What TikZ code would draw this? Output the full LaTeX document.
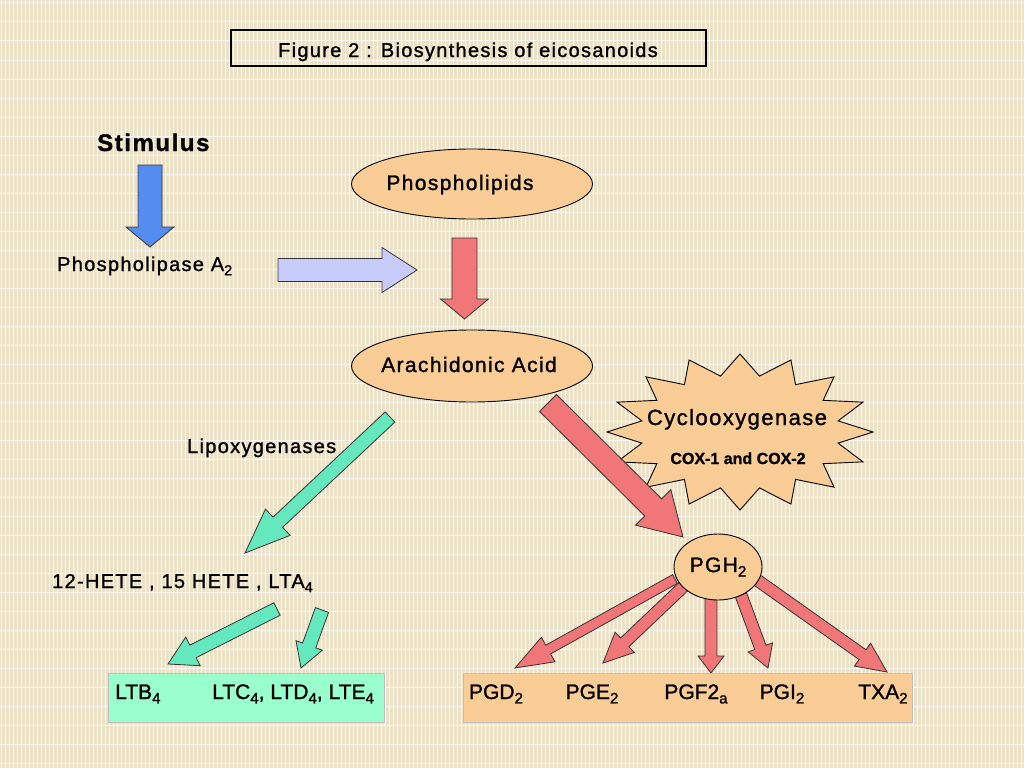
\documentclass[tikz,border=0pt]{standalone}
\usepackage{fontspec}
\setmainfont{Liberation Sans}
\newfontfamily\spfont[LetterSpace=6.5,FakeBold=1.2]{Liberation Sans}
\newfontfamily\fbfont[FakeBold=1.2]{Liberation Sans}
\usetikzlibrary{shapes.geometric,calc}
\definecolor{bgbeige}{RGB}{236,224,198}
\definecolor{peach}{RGB}{250,204,150}
\definecolor{mint}{RGB}{153,255,204}
\definecolor{aqua}{RGB}{102,232,190}
\definecolor{salmon}{RGB}{240,118,120}
\definecolor{skyblue}{RGB}{85,140,240}
\definecolor{lavblue}{RGB}{200,204,250}
\newcommand{\lsub}[1]{\raisebox{-0.4ex}{\scalebox{0.72}{#1}}}
% block arrow: style, start, end, shaft half width, head half width, head length
\newcommand{\blockarrow}[6]{%
  \path ($(#3)!#6pt!(#2)$) coordinate (ba-h);
  \draw[#1] ($(#2)!#4pt!90:(#3)$) -- ($(ba-h)!#4pt!-90:(#2)$) -- ($(ba-h)!#5pt!-90:(#2)$)
    -- (#3) -- ($(ba-h)!#5pt!90:(#2)$) -- ($(ba-h)!#4pt!90:(#2)$) -- ($(#2)!#4pt!-90:(#3)$) -- cycle;}
\tikzset{
  gridln/.style={white, line width=1pt, opacity=0.85},
  t20/.style={font=\spfont\fontsize{20}{24}\selectfont, inner sep=0},
  t21/.style={font=\spfont\fontsize{21}{25}\selectfont, inner sep=0},
  t22/.style={font=\spfont\fontsize{22}{26}\selectfont, inner sep=0},
  b21/.style={font=\fbfont\fontsize{21}{25}\selectfont, inner sep=0},
  oval/.style={ellipse, draw=black, line width=0.9pt, fill=peach, inner sep=0},
  redA/.style={fill=salmon, draw=black!80, line width=0.8pt, line join=miter},
  greenA/.style={fill=aqua, draw=black!80, line width=0.8pt, line join=miter},
  blueA/.style={fill=skyblue, draw=black!80, line width=0.8pt, line join=miter},
  lavA/.style={fill=lavblue, draw=black!80, line width=0.8pt, line join=miter},
}
\begin{document}
\begin{tikzpicture}[x=1pt,y=-1pt]
\useasboundingbox (0,0) rectangle (1024,768);
% background
\fill[bgbeige] (0,0) rectangle (1024,768);
\foreach \i in {1,5,...,1024} \draw[gridln] (\i,0) -- (\i,768);
\foreach \j in {3,22,...,768} \draw[gridln] (0,\j) -- (1024,\j);

% title
\node[draw=black, line width=1.2pt, minimum width=475, minimum height=36, inner sep=0] (titlebox) at (468.5,48) {};
\node[t20, anchor=base] (title) at (468,57) {Figure 2 : Biosynthesis of eicosanoids};

% left texts
\node[font=\spfont\bfseries\fontsize{24}{28}\selectfont, inner sep=0, anchor=base west] (stim) at (97,151) {Stimulus};
\node[t20, anchor=base west] (pla) at (57,271) {Phospholipase A\lsub{2}};

% ellipses
\node[oval, minimum width=241, minimum height=70] (phos) at (472,184) {};
\node[t21, anchor=base] (phost) at (460,190) {Phospholipids};
\node[oval, minimum width=241, minimum height=72] (arach) at (472,366) {};
\node[t21, anchor=base] (aracht) at (469,372) {Arachidonic Acid};

% starburst
\draw[fill=peach, draw=black, line width=0.9pt, line join=miter]
  plot[samples at={0,...,31}] ({740+(mod(\x,2)==0 ? 133 : 100)*cos(90+\x*11.25)}, {432-(mod(\x,2)==0 ? 78 : 57)*sin(90+\x*11.25)}) -- cycle;
\node[t22, anchor=base] (cox) at (737,425) {Cyclooxygenase};
\node[font=\fbfont\bfseries\fontsize{16}{19}\selectfont, inner sep=0, anchor=base] (coxs) at (738,464) {COX-1 and COX-2};

% other texts
\node[t20, anchor=base west] (lipox) at (187,453) {Lipoxygenases};
\node[t20, anchor=base west] (hete) at (52,588) {12-HETE , 15 HETE , LTA\lsub{4}};

% arrow end points
\coordinate (stim-s) at (150,165); \coordinate (stim-e) at (150,247);
\coordinate (pla-s) at (278,270); \coordinate (pla-e) at (417,270);
\coordinate (phos-s) at (464.5,238); \coordinate (phos-e) at (464.5,319);
\coordinate (ar-s) at (548,403); \coordinate (ar-e) at (683,537);
\coordinate (lx-s) at (390,417); \coordinate (lx-e) at (245,553);
\coordinate (g1-s) at (277,609); \coordinate (g1-e) at (168,664);
\coordinate (g2-s) at (322,610); \coordinate (g2-e) at (301,668);
\coordinate (r1-s) at (675,579); \coordinate (r1-e) at (515,668);
\coordinate (r2-s) at (684,586); \coordinate (r2-e) at (603,663);
\coordinate (r3-s) at (711,598); \coordinate (r3-e) at (711,673);
\coordinate (r4-s) at (741,595); \coordinate (r4-e) at (768,668);
\coordinate (r5-s) at (757,580); \coordinate (r5-e) at (887,672);

\blockarrow{blueA}{stim-s}{stim-e}{12}{24}{20}
\blockarrow{lavA}{pla-s}{pla-e}{11.5}{22.5}{35}
\blockarrow{redA}{phos-s}{phos-e}{12.5}{24}{20}
\blockarrow{redA}{ar-s}{ar-e}{12}{25}{42}
\blockarrow{greenA}{lx-s}{lx-e}{7}{18}{45}
\blockarrow{greenA}{g1-s}{g1-e}{7}{16}{28}
\blockarrow{greenA}{g2-s}{g2-e}{7}{14}{24}
\blockarrow{redA}{r1-s}{r1-e}{5}{14}{38}
\blockarrow{redA}{r2-s}{r2-e}{6}{14}{30}
\blockarrow{redA}{r3-s}{r3-e}{6}{13}{17}
\blockarrow{redA}{r4-s}{r4-e}{6}{13}{22}
\blockarrow{redA}{r5-s}{r5-e}{6}{14}{30}

% PGH2
\node[oval, minimum width=88, minimum height=66, font=\spfont\fontsize{21}{25}\selectfont] (pgh) at (718,567) {PGH\lsub{2}};

% bottom boxes
\node[draw=black!25, line width=1pt, fill=mint, minimum width=276, minimum height=49, inner sep=0] (lbox) at (246,697.5) {};
\node[b21, anchor=base west] (ltb) at (115,699) {LTB\lsub{4}};
\node[b21, anchor=base west] (ltc) at (212,699) {LTC\lsub{4}, LTD\lsub{4}, LTE\lsub{4}};

\node[draw=black!25, line width=1pt, fill=peach, minimum width=449, minimum height=49, inner sep=0] (pbox) at (687.5,697.5) {};
\node[b21, anchor=base] (pgd) at (496,699) {PGD\lsub{2}};
\node[b21, anchor=base] (pge) at (592,699) {PGE\lsub{2}};
\node[b21, anchor=base] (pgf) at (696,699) {PGF2\lsub{a}};
\node[b21, anchor=base] (pgi) at (782,699) {PGI\lsub{2}};
\node[b21, anchor=base] (txa) at (883,699) {TXA\lsub{2}};
\end{tikzpicture}
\end{document}
